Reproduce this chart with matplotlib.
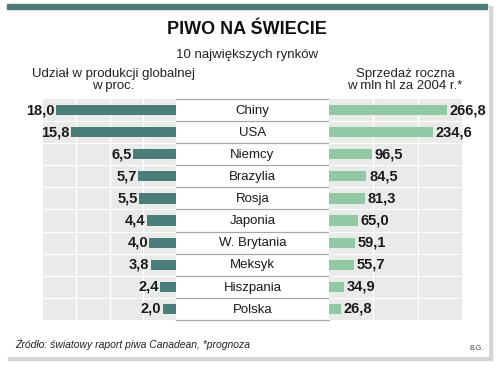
import matplotlib
matplotlib.use("Agg")
import matplotlib.pyplot as plt
from matplotlib.patches import Rectangle

countries = ["Chiny", "USA", "Niemcy", "Brazylia", "Rosja", "Japonia",
             "W. Brytania", "Meksyk", "Hiszpania", "Polska"]
share = [18.0, 15.8, 6.5, 5.7, 5.5, 4.4, 4.0, 3.8, 2.4, 2.0]
sales = [266.8, 234.6, 96.5, 84.5, 81.3, 65.0, 59.1, 55.7, 34.9, 26.8]

def fmt(v):
    return f"{v:.1f}".replace(".", ",")

W, H = 500, 367
fig = plt.figure(figsize=(W / 100, H / 100), dpi=100)
fig.patch.set_facecolor("white")

def px(x0, y0, x1, y1):
    # pixel box -> figure fraction
    return [x0 / W, 1 - y1 / H, (x1 - x0) / W, (y1 - y0) / H]

# card + shadow
fig.patches.append(Rectangle((8 / W, 1 - 360 / H), 484 / W, 354 / H,
                             transform=fig.transFigure, color="#d4d4d4", zorder=-3))
fig.patches.append(Rectangle((5 / W, 1 - 356 / H), 483 / W, 351 / H,
                             transform=fig.transFigure, color="white", zorder=-2))
fig.patches.append(Rectangle((7 / W, 1 - 9 / H), 480 / W, 4.5 / H,
                             transform=fig.transFigure, color="#4d7b78", zorder=-1))

teal = "#4b7d7a"
green = "#93c8a4"
grey = "#e9ebe9"
n = len(countries)
rows = list(range(n))

cond = ["Liberation Sans Narrow", "Liberation Sans", "DejaVu Sans"]
reg = ["Liberation Sans", "DejaVu Sans"]

# left panel
axl = fig.add_axes(px(43, 99, 176, 320))
axl.barh(rows, share, height=0.46, color=teal, zorder=3)
axl.set_xlim(20, 0)
axl.set_ylim(n - 0.5, -0.5)
for g in [5, 10, 15]:
    axl.axvline(g, color="white", lw=1, zorder=1)
for r in range(1, n):
    axl.axhline(r - 0.5, color="white", lw=0.8, zorder=1)
for r, v in zip(rows, share):
    axl.text(v + 0.2, r, fmt(v), ha="right", va="center", fontsize=10.5,
             fontweight="bold", family=cond, color="#1a1a1a", clip_on=False, zorder=4)
axl.set_xticks([])
axl.set_yticks([])
for s in axl.spines.values():
    s.set_visible(False)
axl.set_facecolor(grey)

# middle labels
axm = fig.add_axes(px(176, 99, 329, 320))
axm.set_xlim(0, 1)
axm.set_ylim(n - 0.5, -0.5)
for r in range(n + 1):
    axm.axhline(r - 0.5, color="#a8a8a8", lw=0.9, clip_on=False)
for r, c in zip(rows, countries):
    axm.text(0.5, r + 0.03, c, ha="center", va="center", fontsize=9.5,
             family=reg, color="#1a1a1a")
axm.axis("off")

# right panel
axr = fig.add_axes(px(329, 99, 462, 320))
axr.barh(rows, sales, height=0.46, color=green, zorder=3)
axr.set_xlim(0, 300)
axr.set_ylim(n - 0.5, -0.5)
for g in [100, 200]:
    axr.axvline(g, color="white", lw=1, zorder=1)
for r in range(1, n):
    axr.axhline(r - 0.5, color="white", lw=0.8, zorder=1)
for r, v in zip(rows, sales):
    axr.text(v + 6, r, fmt(v), ha="left", va="center", fontsize=10.5,
             fontweight="bold", family=cond, color="#1a1a1a", clip_on=False, zorder=4)
axr.set_xticks([])
axr.set_yticks([])
for s in axr.spines.values():
    s.set_visible(False)
axr.set_facecolor(grey)

# texts
fig.text(247 / W, 1 - 30 / H, "PIWO NA ŚWIECIE", ha="center", va="center",
         fontsize=13, fontweight="bold", family=cond, color="#111111")
fig.text(247 / W, 1 - 55 / H, "10 największych rynków", ha="center", va="center",
         fontsize=9.5, family=reg, color="#222222")
fig.text(113 / W, 1 - 80 / H, "Udział w produkcji globalnej\nw proc.", ha="center",
         va="center", fontsize=9.5, linespacing=1.1, family=reg, color="#222222")
fig.text(405 / W, 1 - 80 / H, "Sprzedaż roczna\nw mln hl za 2004 r.*", ha="center",
         va="center", fontsize=9.5, linespacing=1.1, family=reg, color="#222222")
fig.text(15 / W, 1 - 344 / H, "Źródło: światowy raport piwa Canadean, *prognoza",
         ha="left", va="center", fontsize=7.5, style="italic", family=reg,
         color="#222222")
fig.text(484 / W, 1 - 348 / H, "B.G.", ha="right", va="center", fontsize=5,
         family=reg, color="#444444")

fig.savefig("out.png", dpi=100, facecolor="white")
